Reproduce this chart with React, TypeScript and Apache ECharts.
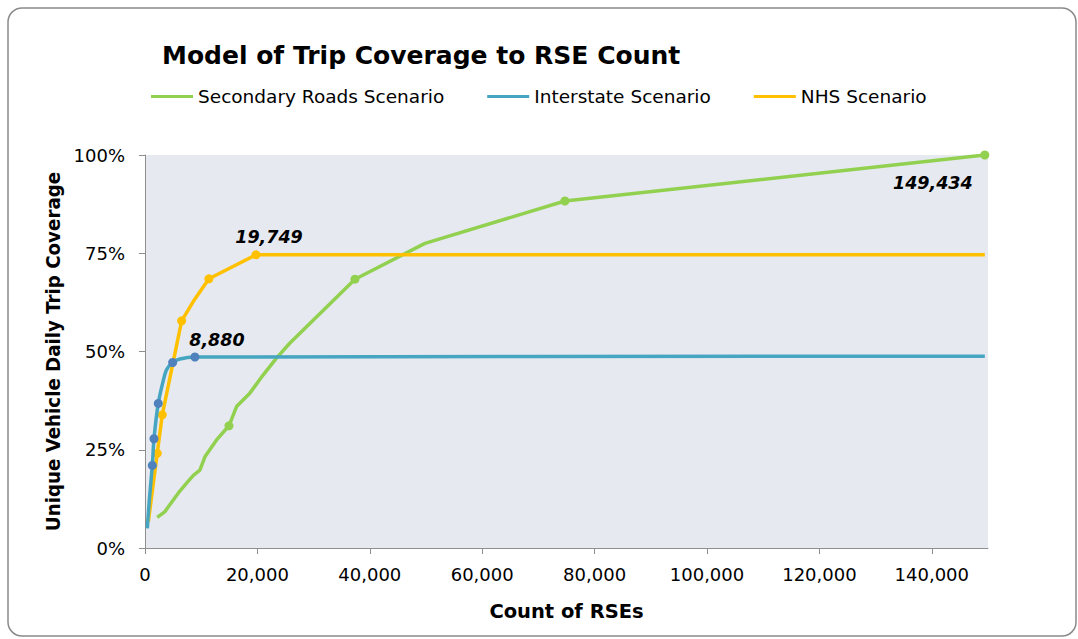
import React, { useEffect, useRef } from "react";
import * as echarts from "echarts";

const titleText = "Model of Trip Coverage to RSE Count";
const xAxisTitle = "Count of RSEs";
const yAxisTitle = "Unique Vehicle Daily Trip Coverage";
const seriesNames = ["Secondary Roads Scenario", "Interstate Scenario", "NHS Scenario"];
const xTickValues = [0, 20000, 40000, 60000, 80000, 100000, 120000, 140000];

// Secondary Roads Scenario
const secondaryX = [2180, 3500, 5030, 6200, 7400, 8600, 9770, 10660, 12730, 14943, 16290, 18650, 21010, 23390, 25750, 37359, 49811, 74717, 149434];
const secondaryY = [7.8, 9.2, 12.2, 14.5, 16.5, 18.5, 19.8, 23.2, 27.5, 31.1, 36.0, 39.4, 44.0, 48.3, 52.1, 68.4, 77.5, 88.3, 100];
const secondaryMarked = [0, 0, 0, 0, 0, 0, 0, 0, 0, 1, 0, 0, 0, 0, 0, 1, 0, 1, 1];

// Interstate Scenario
const interstateX = [410, 770, 1300, 1600, 2360, 3250, 3850, 4920, 6220, 8880, 149434];
const interstateY = [5.0, 12.2, 21.0, 27.8, 36.8, 42.6, 45.4, 47.2, 48.1, 48.6, 48.8];
const interstateMarked = [0, 0, 1, 1, 1, 0, 0, 1, 0, 1, 0];

// NHS Scenario
const nhsX = [590, 2180, 3070, 6520, 8580, 11370, 19749, 149434];
const nhsY = [6.7, 24.1, 33.9, 57.8, 62.7, 68.5, 74.6, 74.6];
const nhsMarked = [0, 1, 1, 1, 0, 1, 1, 0];

// callouts: [series index, point index, text]
const callouts = [
  { series: 1, point: 9, text: "8,880" },
  { series: 2, point: 6, text: "19,749" },
  { series: 0, point: 18, text: "149,434" },
];

const GREEN = "#92D050";
const TEAL = "#46A5C0";
const BLUE = "#4F81BD";
const YELLOW = "#FFC000";
const AXIS = "#8E8E8E";

function buildData(xs: number[], ys: number[], marked: number[], markerColor: string, seriesIdx: number) {
  return xs.map((x, i) => {
    const item: any = { value: [x, ys[i]] };
    if (marked[i]) {
      item.symbol = "circle";
      item.symbolSize = 9;
      item.itemStyle = { color: markerColor };
    } else {
      item.symbol = "none";
    }
    const c = callouts.find((k) => k.series === seriesIdx && k.point === i);
    if (c) {
      const base = {
        show: true,
        formatter: c.text,
        color: "#000",
        fontFamily: "DejaVu Sans",
        fontWeight: "bold",
        fontStyle: "italic",
        fontSize: 17.5,
      };
      if (seriesIdx === 0) {
        item.label = { ...base, position: "bottom", distance: 5, offset: [-52, 9] };
      } else if (seriesIdx === 1) {
        item.label = { ...base, position: "top", distance: 4, offset: [22, 0] };
      } else {
        item.label = { ...base, position: "top", distance: 4, offset: [13, 0] };
      }
    }
    return item;
  });
}

export default function App() {
  const ref = useRef<HTMLDivElement>(null);
  useEffect(() => {
    if (!ref.current) return;
    const chart = echarts.init(ref.current, null, { renderer: "svg" });
    chart.setOption({
      animation: false,
      backgroundColor: "#ffffff",
      title: {
        text: titleText,
        left: 157,
        top: 38,
        textStyle: { fontFamily: "DejaVu Sans", fontWeight: "bold", fontSize: 25, color: "#000" },
      },
      legend: {
        data: seriesNames,
        left: 146,
        top: 82,
        icon: "rect",
        itemWidth: 42,
        itemHeight: 3,
        itemGap: 43,
        textStyle: { fontFamily: "DejaVu Sans", fontSize: 18.5, color: "#000" },
      },
      graphic: [
        {
          type: "rect",
          shape: { x: 8, y: 8, width: 1068, height: 628, r: 14 },
          style: { fill: "none", stroke: "#8a8a8a", lineWidth: 1.5 },
          silent: true,
          z: -1,
        },
      ],
      grid: {
        left: 145,
        right: 90,
        top: 155,
        bottom: 91,
        show: true,
        backgroundColor: "#E6E9F0",
        borderWidth: 0,
      },
      xAxis: {
        type: "value",
        min: 0,
        max: 150000,
        interval: 20000,
        name: xAxisTitle,
        nameLocation: "middle",
        nameGap: 53,
        nameTextStyle: { fontFamily: "DejaVu Sans", fontWeight: "bold", fontSize: 19.5, color: "#000" },
        axisLine: { show: true, lineStyle: { color: AXIS, width: 1 } },
        axisTick: { show: true, length: 6, lineStyle: { color: AXIS }, customValues: xTickValues },
        splitLine: { show: false },
        axisLabel: {
          customValues: xTickValues,
          margin: 17,
          fontFamily: "DejaVu Sans",
          fontSize: 18,
          color: "#000",
          formatter: (v: number) => v.toLocaleString("en-US"),
        },
      },
      yAxis: {
        type: "value",
        min: 0,
        max: 100,
        interval: 25,
        name: yAxisTitle,
        nameLocation: "middle",
        nameGap: 74,
        nameTextStyle: { fontFamily: "DejaVu Sans Condensed", fontWeight: "bold", fontSize: 20.3, color: "#000" },
        axisLine: { show: true, lineStyle: { color: AXIS, width: 1 } },
        axisTick: { show: true, length: 6, lineStyle: { color: AXIS } },
        splitLine: { show: false },
        axisLabel: {
          margin: 20,
          fontFamily: "DejaVu Sans",
          fontSize: 18,
          color: "#000",
          formatter: (v: number) => `${v}%`,
        },
      },
      series: [
        {
          name: seriesNames[0],
          type: "line",
          color: GREEN,
          lineStyle: { color: GREEN, width: 3.5 },
          itemStyle: { color: GREEN },
          symbol: "circle",
          showSymbol: true,
          data: buildData(secondaryX, secondaryY, secondaryMarked, GREEN, 0),
          z: 2,
        },
        {
          name: seriesNames[2],
          type: "line",
          color: YELLOW,
          lineStyle: { color: YELLOW, width: 3.5 },
          itemStyle: { color: YELLOW },
          symbol: "circle",
          showSymbol: true,
          data: buildData(nhsX, nhsY, nhsMarked, YELLOW, 2),
          z: 3,
        },
        {
          name: seriesNames[1],
          type: "line",
          color: TEAL,
          smooth: 0.3,
          lineStyle: { color: TEAL, width: 3.5 },
          itemStyle: { color: TEAL },
          symbol: "circle",
          showSymbol: true,
          data: buildData(interstateX, interstateY, interstateMarked, BLUE, 1),
          z: 4,
        },
      ],
    });
    return () => chart.dispose();
  }, []);
  return (
    <div
      ref={ref}
      style={{ position: "absolute", left: 0, top: 0, width: 1078, height: 639 }}
    />
  );
}
